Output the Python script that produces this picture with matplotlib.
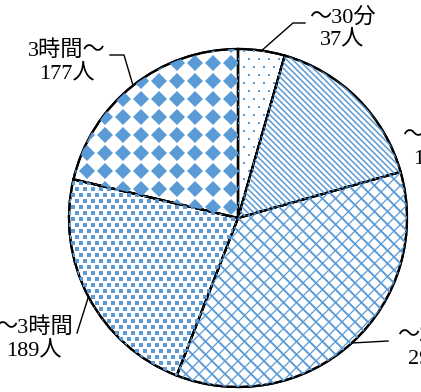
import numpy as np
import matplotlib
matplotlib.use("Agg")
import matplotlib.pyplot as plt

plt.rcParams['font.family'] = ['Liberation Serif', 'Noto Sans CJK JP']

# data
labels = ['～30分', '～1時間', '～2時間', '～3時間', '3時間～']
counts = [37, 134, 293, 189, 177]

blue = '#5B9BD5'
W, H = 421, 392
cx, cy, R = 238, 218, 169


def px(x, y):
    # pixel position -> data units of the pie
    return (x - cx) / R, (cy - y) / R


def grid(step_x, step_y, shift=0.0):
    # pattern points (pixel spacing) covering the unit disc
    pts_x, pts_y = [], []
    for j, y in enumerate(np.arange(-R - step_y, R + step_y, step_y)):
        off = shift if j % 2 else 0.0
        xs = np.arange(-R - step_x, R + step_x, step_x) + off
        pts_x.extend(xs / R)
        pts_y.extend([y / R] * len(xs))
    return np.array(pts_x), np.array(pts_y)


def diag_lines(ax, step, slope, lw, clip):
    # parallel lines y = slope*x + c, step = horizontal spacing in px
    for c in np.arange(-3 * R, 3 * R, step) / R:
        ln, = ax.plot([-1.2, 1.2], [slope * -1.2 + c, slope * 1.2 + c],
                      color=blue, linewidth=lw, solid_capstyle='butt')
        ln.set_clip_path(clip)


fig = plt.figure(figsize=(W / 100, H / 100), dpi=100)
ax = fig.add_axes([0, 0, 1, 1])

wedges, _ = ax.pie(counts, startangle=90, counterclock=False, radius=1,
                   wedgeprops=dict(facecolor='white', edgecolor='black',
                                   linewidth=1.6))

# fill patterns
w1, w2, w3, w4, w5 = wedges
gx, gy = grid(10, 8, 5)
p, = ax.plot(gx, gy, 's', color=blue, markersize=1.6, markeredgewidth=0)
p.set_clip_path(w1)
diag_lines(ax, 6, -1, 1.1, w2)
diag_lines(ax, 13, -1, 1.4, w3)
diag_lines(ax, 13, 1, 0.9, w3)
gx, gy = grid(8, 6, 4)
p, = ax.plot(gx, gy, 's', color=blue, markersize=3.3, markeredgewidth=0)
p.set_clip_path(w4)
gx, gy = grid(18, 18)
p, = ax.plot(gx, gy, 'D', color=blue, markersize=8.5, markeredgewidth=0)
p.set_clip_path(w5)

# outlines on top
ax.pie(counts, startangle=90, counterclock=False, radius=1,
       wedgeprops=dict(fill=False, edgecolor='black', linewidth=1.6))

# label layout: text centre, leader elbow/end points (pixels)
text_pos = [(342, 29), (441, 147), (436, 347), (34, 339), (67, 62)]
leaders = [[(293, 23), (305, 23)], None, [(388, 341)], [(77, 333)],
           [(124, 55), (110, 55)]]

total = sum(counts)
start = 90.0
for i, (lab, n) in enumerate(zip(labels, counts)):
    span = 360.0 * n / total
    mid = np.deg2rad(start - span / 2)
    start -= span
    tx, ty = px(*text_pos[i])
    ax.text(tx, ty, f'{lab}\n{n}人', ha='center', va='center',
            fontsize=16, linespacing=1.25)
    if leaders[i] is not None:
        xs = [np.cos(mid)] + [px(*p)[0] for p in leaders[i]]
        ys = [np.sin(mid)] + [px(*p)[1] for p in leaders[i]]
        ax.plot(xs, ys, color='black', linewidth=1.0)

ax.set_xlim(-cx / R, (W - cx) / R)
ax.set_ylim(-(H - cy) / R, cy / R)
ax.set_aspect('auto')
ax.axis('off')

fig.savefig('out.png', dpi=100)
